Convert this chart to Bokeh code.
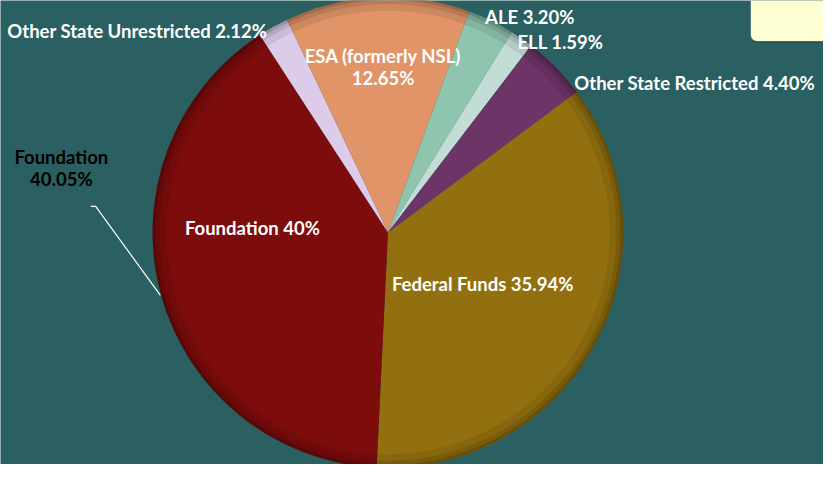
import math
from bokeh.plotting import figure
from bokeh.models import Range1d, ColumnDataSource, BoxAnnotation
from bokeh.core.properties import value
from bokeh.embed import file_html
from bokeh.resources import INLINE

# ---- data (clockwise from Federal Funds) ----
categories = ["Federal Funds", "Foundation", "Other State Unrestricted",
              "ESA (formerly NSL)", "ALE", "ELL", "Other State Restricted"]
shares = [35.94, 40.05, 2.12, 12.65, 3.20, 1.59, 4.40]
slice_colors = ["#93700F", "#7D0C0C", "#DCCCEA", "#E09468", "#8FC4AE", "#C3DCD6", "#6C3467"]

# label texts and anchor positions (image pixel coords, y down)
label_texts = ["Other State Unrestricted 2.12%", "ESA (formerly NSL)", "12.65%",
               "ALE 3.20%", "ELL 1.59%", "Other State Restricted 4.40%",
               "Foundation 40%", "Federal Funds 35.94%"]
label_x = [7, 390, 390, 494, 527, 585, 188, 399]
label_y = [32, 57, 80, 17, 43, 85, 235, 293]
label_align = ["left", "center", "center", "left", "left", "left", "left", "left"]

outer_texts = ["Foundation", "40.05%"]
outer_x = [62, 62]
outer_y = [162, 185]

W, H = 839, 480
CX, CY, R = 395, 240, 240
START_DEG = 36.7

p = figure(width=823, height=464, output_backend="svg", toolbar_location=None,
           x_range=Range1d(0, W), y_range=Range1d(0, H), min_border=0)
p.axis.visible = False
p.grid.visible = False
p.outline_line_color = None
p.background_fill_color = "#2A6061"
p.border_fill_color = "#2A6061"

# wedges
total = sum(shares)
starts, ends = [], []
a = math.radians(START_DEG)
for s in shares:
    starts.append(a)
    a -= s / total * 2 * math.pi
    ends.append(a)
src = ColumnDataSource(dict(cat=categories, start=starts, end=ends, color=slice_colors))
p.wedge(x=CX, y=H - CY, radius=R, start_angle="start", end_angle="end",
        direction="clock", fill_color="color", line_color=None, source=src)

# subtle darkening near the rim
for dr, al in [(14, 0.08), (7, 0.10), (3, 0.14)]:
    p.annulus(x=CX, y=H - CY, inner_radius=R - dr, outer_radius=R,
              fill_color="black", fill_alpha=al, line_color=None)

FS = "18.5px"
# labels
for t, x, y, al in zip(label_texts, label_x, label_y, label_align):
    p.text(x=[x], y=[H - y], text=[t], text_color="white", text_font=value("Lato"),
           text_font_style="bold", text_font_size=FS, text_align=al,
           text_baseline="middle")

for t, x, y in zip(outer_texts, outer_x, outer_y):
    p.text(x=[x], y=[H - y], text=[t], text_color="black", text_font=value("Lato"),
           text_font_style="bold", text_font_size=FS, text_align="center",
           text_baseline="middle")

# leader line
p.line(x=[92, 97, 163], y=[H - 213, H - 213, H - 305], line_color="white", line_width=1.2)

# cream box top-right
p.add_layout(BoxAnnotation(left=768, right=850, bottom=H - 44, top=H + 10,
                           fill_color="#1E4648", fill_alpha=0.5, line_color=None))
p.add_layout(BoxAnnotation(left=765, right=850, bottom=H - 42, top=H + 10,
                           fill_color="#FFFFD4", fill_alpha=1, line_color="#E8E8C0",
                           border_radius=6))

open("out.html", "w").write(file_html(p, INLINE))
